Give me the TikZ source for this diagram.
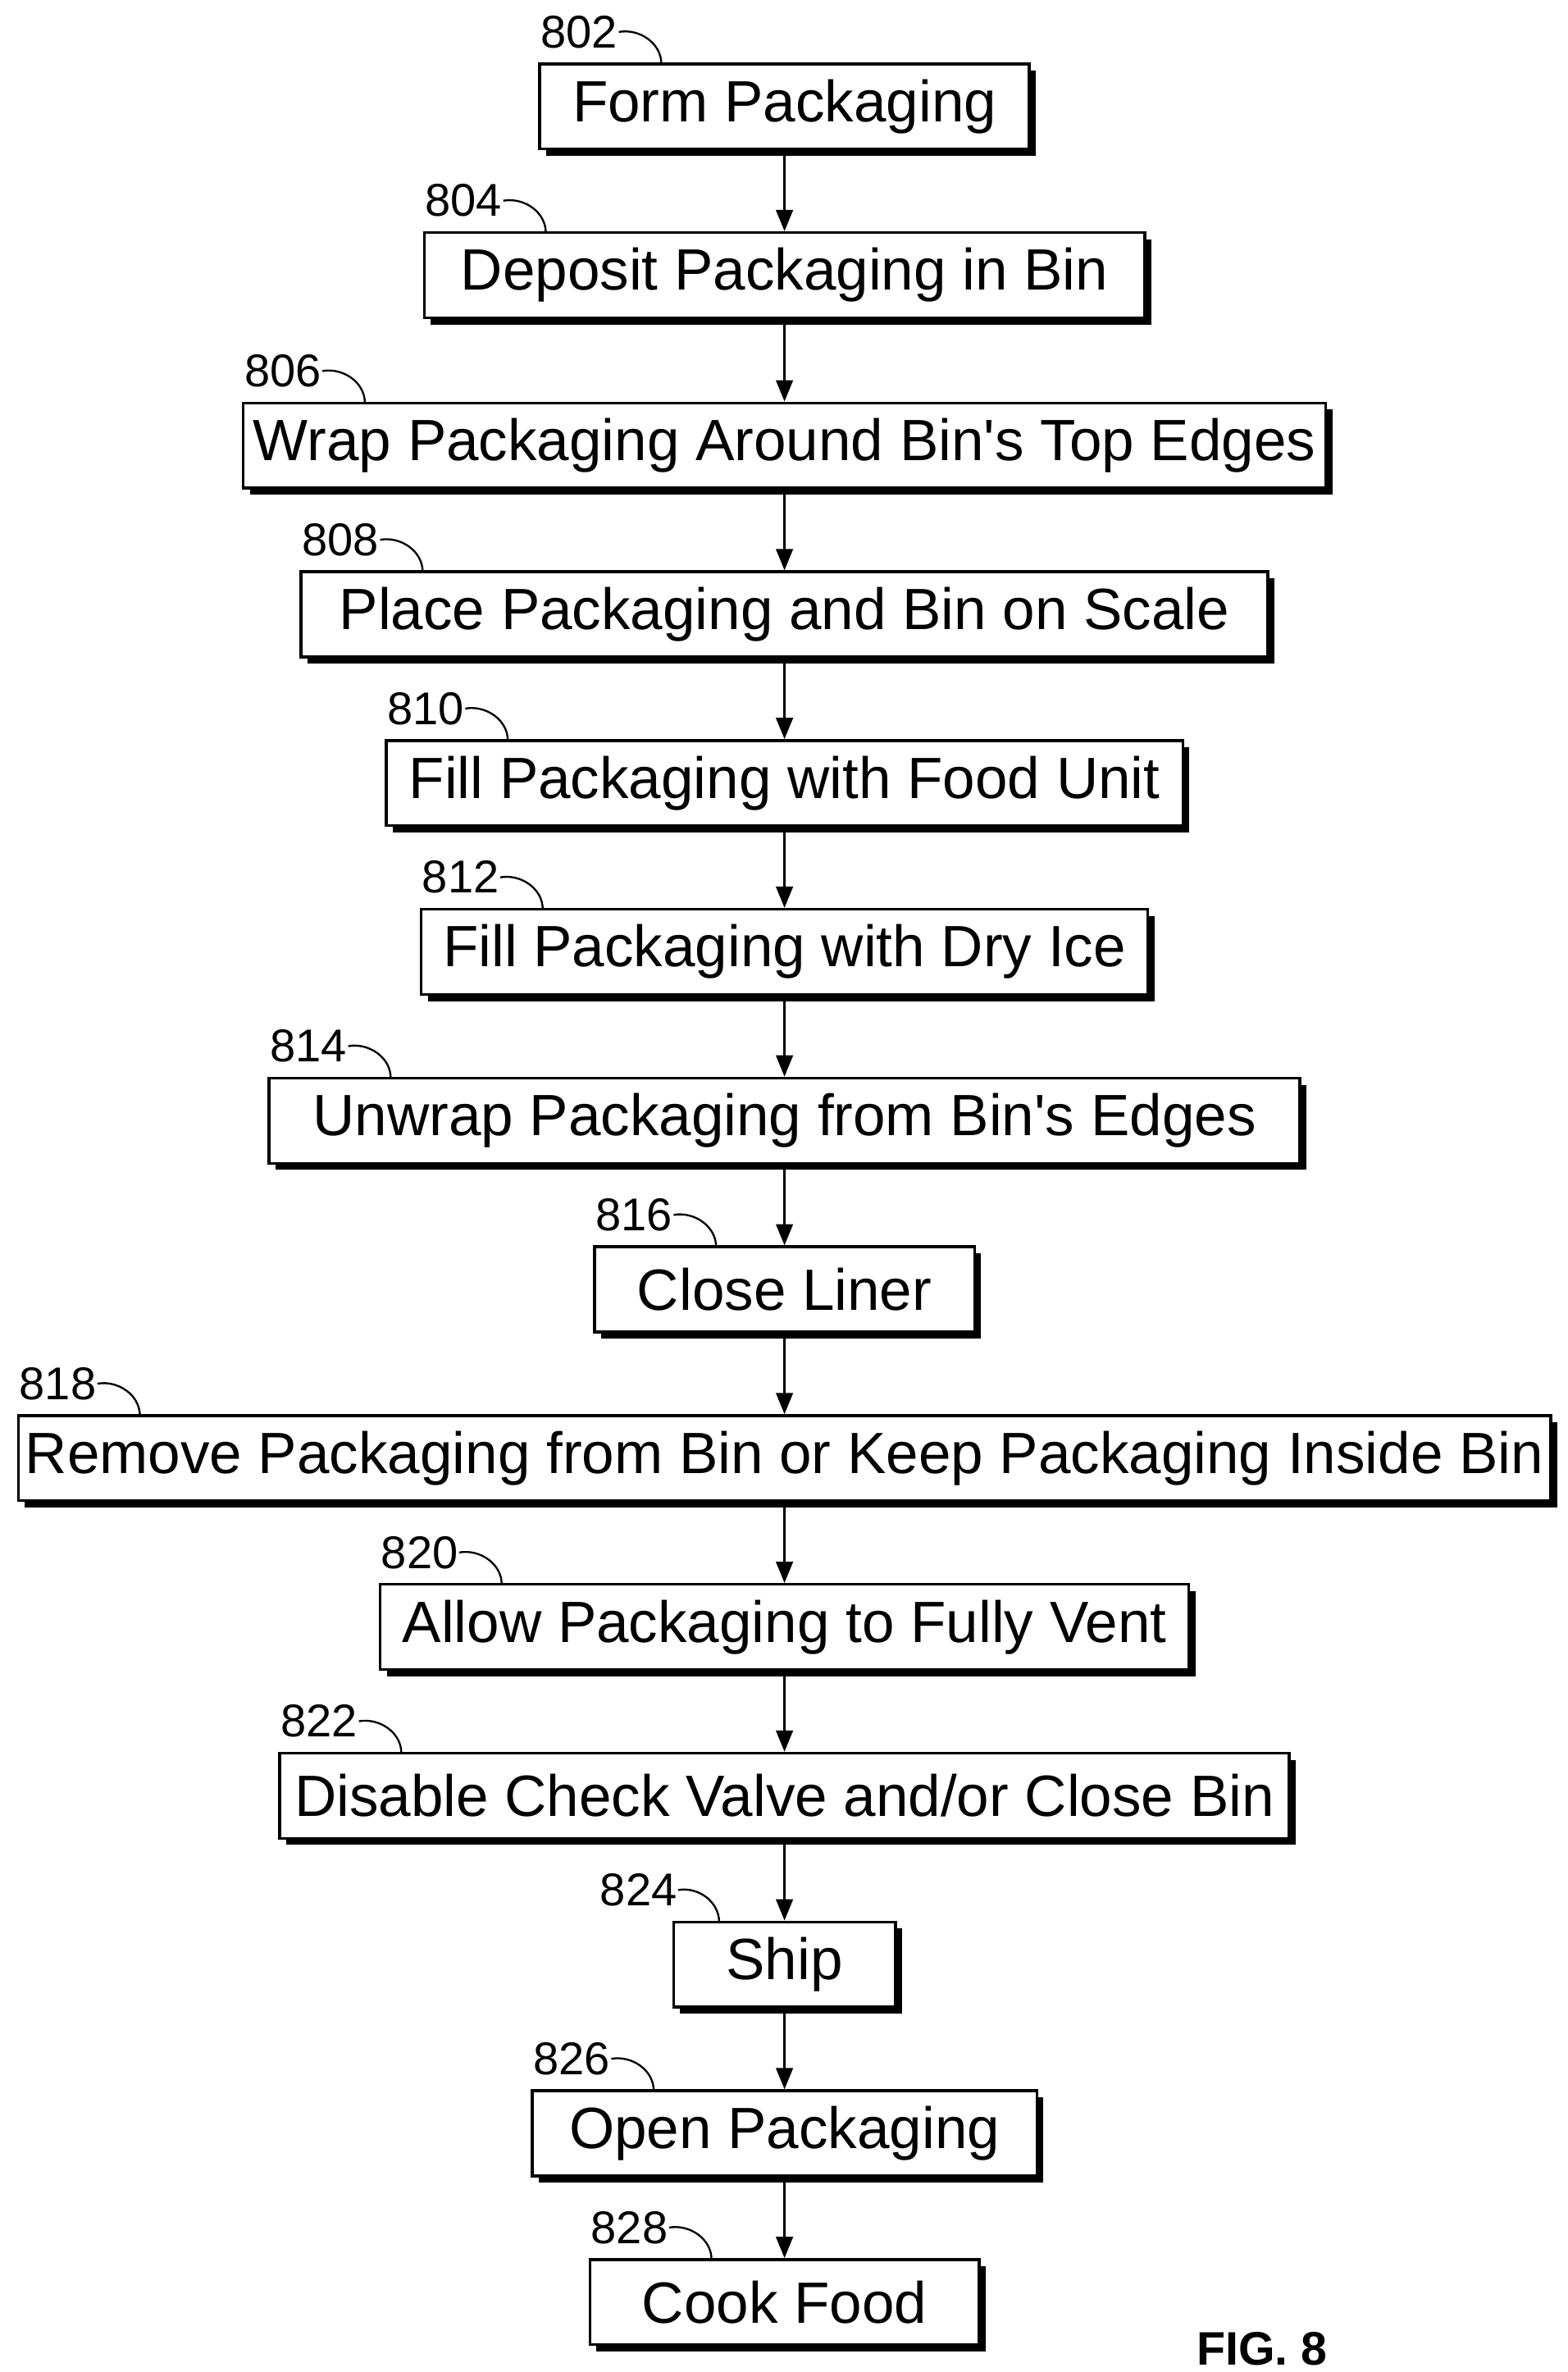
\documentclass[tikz,border=0pt]{standalone}
\usepackage{fontspec}
\setmainfont{Liberation Sans}
\usetikzlibrary{shadows,arrows.meta}
\begin{document}
\begin{tikzpicture}[x=0.05cm,y=-0.05cm,
  box/.style={draw,line width=2.6pt,fill=white,minimum height=2.8cm,inner sep=0pt,
    font=\fontsize{54.5}{56}\selectfont,
    drop shadow={shadow xshift=0.22cm,shadow yshift=-0.22cm,fill=black,opacity=1}},
  lbl/.style={font=\fontsize{43}{45}\selectfont,inner sep=1pt},
  lead/.style={line width=1.8pt},
  arr/.style={line width=2.4pt,-{Triangle[length=0.7cm,width=0.55cm]}}]
\useasboundingbox (0,0) rectangle (1031,1560);
\newcommand\stp[7]{%
  \pgfmathsetmacro\ww{(516-#2)*2*0.05}%
  \node[box,minimum width=\ww cm] (#1) at (516,#3+28) {#4};
  \node[lbl] (#1l) at (#2+#6,#3-21) {#5};
  \coordinate (#1t) at (#2+#7,#3);
  \draw[lead] (#1l.east) to[out=10,in=90] (#1t);
}
\stp{a}{355}{42}{Form Packaging}{802}{26}{80}
\stp{b}{279}{153}{Deposit Packaging in Bin}{804}{26}{80}
\stp{c}{160}{265}{Wrap Packaging Around Bin\textquotesingle s Top Edges}{806}{26}{80}
\stp{d}{198}{376}{Place Packaging and Bin on Scale}{808}{26}{80}
\stp{e}{254}{487}{Fill Packaging with Food Unit}{810}{26}{80}
\stp{f}{277}{598}{Fill Packaging with Dry Ice}{812}{26}{80}
\stp{g}{177}{709}{Unwrap Packaging from Bin\textquotesingle s Edges}{814}{26}{80}
\stp{h}{391}{820}{Close Liner}{816}{26}{80}
\stp{i}{12}{931}{Remove Packaging from Bin or Keep Packaging Inside Bin}{818}{26}{80}
\stp{j}{250}{1042}{Allow Packaging to Fully Vent}{820}{26}{80}
\stp{k}{184}{1153}{Disable Check Valve and/or Close Bin}{822}{26}{80}
\stp{l}{443}{1264}{Ship}{824}{-23}{30}
\stp{m}{350}{1375}{Open Packaging}{826}{26}{80}
\stp{n}{388}{1486}{Cook Food}{828}{26}{80}
\foreach \p/\q in {a/b,b/c,c/d,d/e,e/f,f/g,g/h,h/i,i/j,j/k,k/l,l/m,m/n}
  \draw[arr] (\p) -- (\q);
\node[font=\bfseries\fontsize{44}{46}\selectfont] (fig) at (830,1545) {FIG. 8};
\end{tikzpicture}
\end{document}
